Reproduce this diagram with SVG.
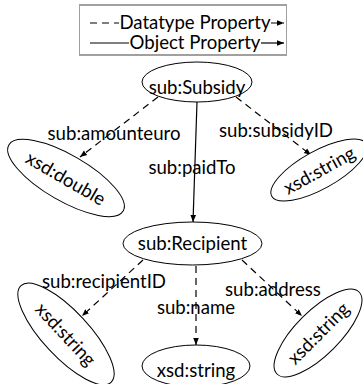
<svg xmlns="http://www.w3.org/2000/svg" width="363" height="384" viewBox="0 0 363 384">
<defs>
<marker id="arr" viewBox="0 0 10 10" refX="10" refY="5" markerWidth="7" markerHeight="7" orient="auto" markerUnits="userSpaceOnUse">
<path d="M0,1 L10,5 L0,9 Z" fill="#000"/>
</marker>
<style>
text{font-family:Lato,"Liberation Sans",Arial,sans-serif;font-size:18.6px;fill:#000;text-anchor:middle}
.c{dominant-baseline:central}
.node ellipse{fill:#fff;stroke:#000;stroke-width:1}
.dt{stroke:#000;stroke-width:1.2;fill:none;stroke-dasharray:7 5}
.ob{stroke:#000;stroke-width:1.2;fill:none}
</style>
</defs>
<rect width="363" height="384" fill="#fff"/>
<g id="legend">
<rect x="79.5" y="5" width="207" height="50" fill="#fff" stroke="#a0a0a0" stroke-width="1"/>
<line x1="79" y1="5" x2="287" y2="5" stroke="#a0a0a0" stroke-width="2"/>
<line x1="79" y1="55" x2="287" y2="55" stroke="#a0a0a0" stroke-width="2"/>
<line class="dt" x1="90" y1="23" x2="119" y2="23"/>
<text x="195" y="29">Datatype Property</text>
<line class="dt" x1="271" y1="23" x2="284" y2="23" marker-end="url(#arr)"/>
<line class="ob" x1="90" y1="43" x2="129" y2="43"/>
<text x="195" y="49">Object Property</text>
<line class="ob" x1="261" y1="43" x2="284" y2="43" marker-end="url(#arr)"/>
</g>
<g id="connectors">
<line class="dt" x1="158" y1="97" x2="80" y2="157" marker-end="url(#arr)"/>
<line class="dt" x1="236" y1="97" x2="311" y2="155" marker-end="url(#arr)"/>
<line class="ob" x1="197" y1="102" x2="193" y2="222" marker-end="url(#arr)"/>
<line class="dt" x1="143" y1="260" x2="82" y2="316" marker-end="url(#arr)"/>
<line class="dt" x1="196" y1="266" x2="196" y2="345" marker-end="url(#arr)"/>
<line class="dt" x1="242" y1="260" x2="302" y2="316" marker-end="url(#arr)"/>
</g>
<g id="labels">
<text x="114" y="140">sub:amounteuro</text>
<text x="276" y="137">sub:subsidyID</text>
<text x="192" y="174">sub:paidTo</text>
<text x="104" y="288">sub:recipientID</text>
<text x="196" y="314">sub:name</text>
<text x="273" y="296">sub:address</text>
</g>
<g id="subsidy" class="node">
<ellipse cx="197" cy="82" rx="55" ry="20"/>
<text x="197" y="94">sub:Subsidy</text>
</g>
<g id="double" class="node" transform="translate(66,178) rotate(30)">
<ellipse cx="0" cy="0" rx="66" ry="23"/>
<text class="c" x="0" y="0">xsd:double</text>
</g>
<g id="string1" class="node" transform="translate(319,170) rotate(-29)">
<ellipse cx="0" cy="0" rx="54" ry="19"/>
<text class="c" x="0" y="0">xsd:string</text>
</g>
<g id="recipient" class="node">
<ellipse cx="192.5" cy="243.5" rx="69.5" ry="21.5"/>
<text x="192.5" y="250">sub:Recipient</text>
</g>
<g id="string2" class="node" transform="translate(66,334) rotate(47)">
<ellipse cx="0" cy="0" rx="66" ry="23"/>
<text class="c" x="0" y="0">xsd:string</text>
</g>
<g id="string3" class="node">
<ellipse cx="196" cy="366" rx="54" ry="21"/>
<text x="196" y="377">xsd:string</text>
</g>
<g id="string4" class="node" transform="translate(318,333) rotate(-45)">
<ellipse cx="0" cy="0" rx="58" ry="22"/>
<text class="c" x="0" y="0">xsd:string</text>
</g>
</svg>
